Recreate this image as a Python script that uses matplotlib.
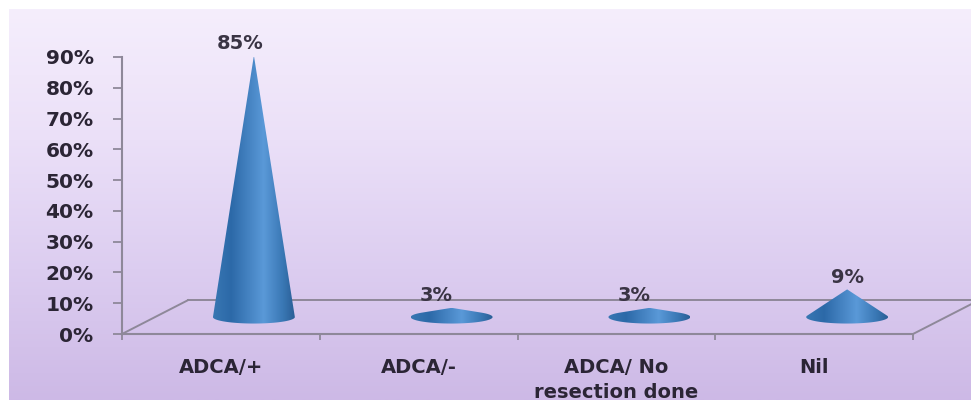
import numpy as np
import matplotlib
matplotlib.use("Agg")
import matplotlib.pyplot as plt
from matplotlib.colors import LinearSegmentedColormap
from matplotlib.path import Path
from matplotlib.patches import PathPatch
from matplotlib.ticker import FuncFormatter

# values
categories = ["ADCA/+", "ADCA/-", "ADCA/ No\nresection done", "Nil"]
values = [85, 3, 3, 9]
y_ticks = [0, 10, 20, 30, 40, 50, 60, 70, 80, 90]

# fake 3D floor, in axis units
depth_x = 0.334
depth_y = 11.0
cone_w = 0.207
cone_h = 2.1

# label nudges in points, the source chart has them off centre
label_dx = [-10, -11, -11, 0]

text_color = "#2b2535"
line_color = "#8e8899"

cone_cmap = LinearSegmentedColormap.from_list(
    "cone",
    [
        (0.0, "#3877b3"),
        (0.22, "#2c69a8"),
        (0.62, "#5a99d8"),
        (0.85, "#3a78b5"),
        (1.0, "#2a5f96"),
    ],
)
bg_cmap = LinearSegmentedColormap.from_list(
    "bg", ["#f5eefc", "#ebe0f8", "#dccdf0", "#cdb9e6"]
)

plt.rcParams["font.family"] = "DejaVu Sans"
fig = plt.figure(figsize=(9.71, 4.0), dpi=100)

# lilac panel with a small white margin at top and left
bg = fig.add_axes([9 / 971, 0, 962 / 971, 391 / 400], zorder=0)
bg.imshow(np.linspace(0, 1, 256).reshape(-1, 1), cmap=bg_cmap, aspect="auto")
bg.axis("off")

ax = fig.add_axes([122 / 971, 66 / 400, 791 / 971, 277 / 400], zorder=1)
ax.patch.set_alpha(0)
ax.set_xlim(0, 4)
ax.set_ylim(0, 90)

for side in ["top", "right"]:
    ax.spines[side].set_visible(False)
for side in ["left", "bottom"]:
    ax.spines[side].set_color(line_color)
    ax.spines[side].set_linewidth(1.5)

ax.set_yticks(y_ticks)
ax.yaxis.set_major_formatter(FuncFormatter(lambda v, _: f"{v:.0f}%"))
ax.tick_params(axis="y", length=6.5, width=1.3, color=line_color, pad=14,
               labelsize=14.5, labelcolor=text_color)
for lab in ax.get_yticklabels():
    lab.set_fontweight("bold")

ax.set_xticks(range(len(categories) + 1))
ax.set_xticklabels([])
ax.set_xticks([i + 0.5 for i in range(len(categories))], minor=True)
ax.set_xticklabels(categories, minor=True, fontweight="bold", fontsize=14,
                   color=text_color, linespacing=1.4)
ax.tick_params(axis="x", which="major", length=4, width=1.3, color=line_color)
ax.tick_params(axis="x", which="minor", length=0, pad=17)

# floor
ax.plot([0, depth_x], [0, depth_y], color=line_color, lw=1.4, clip_on=False)
ax.plot([depth_x, 4 + depth_x], [depth_y, depth_y], color=line_color, lw=1.4, clip_on=False)
ax.plot([4, 4 + depth_x], [0, depth_y], color=line_color, lw=1.4, clip_on=False)

# cones, sitting halfway back on the floor
gradient = np.linspace(0, 1, 256).reshape(1, -1)
for i, val in enumerate(values):
    cx = i + 0.5 + depth_x / 2
    base = depth_y / 2
    top = base + val

    # sides meet the base ellipse at the tangent point, matters for the short cones
    a = np.arcsin(cone_h / val)
    theta = np.linspace(np.pi - a, 2 * np.pi + a, 90)
    xs = np.r_[cx, cx + cone_w * np.cos(theta)]
    ys = np.r_[top, base + cone_h * np.sin(theta)]
    outline = Path(np.column_stack([np.r_[xs, xs[0]], np.r_[ys, ys[0]]]), closed=True)

    clip = PathPatch(outline, transform=ax.transData, facecolor="none", edgecolor="none")
    ax.add_patch(clip)
    im = ax.imshow(
        gradient,
        cmap=cone_cmap,
        aspect="auto",
        extent=[cx - cone_w, cx + cone_w, base - cone_h, top],
        zorder=3,
        clip_on=True,
    )
    im.set_clip_path(clip)

    ax.annotate(
        f"{val}%",
        xy=(cx, top),
        xytext=(label_dx[i], 2),
        textcoords="offset points",
        ha="center",
        va="bottom",
        fontsize=14,
        fontweight="bold",
        color="#3a3444",
        annotation_clip=False,
    )

ax.set_xlim(0, 4)
ax.set_ylim(0, 90)

fig.savefig("out.png", dpi=100)
